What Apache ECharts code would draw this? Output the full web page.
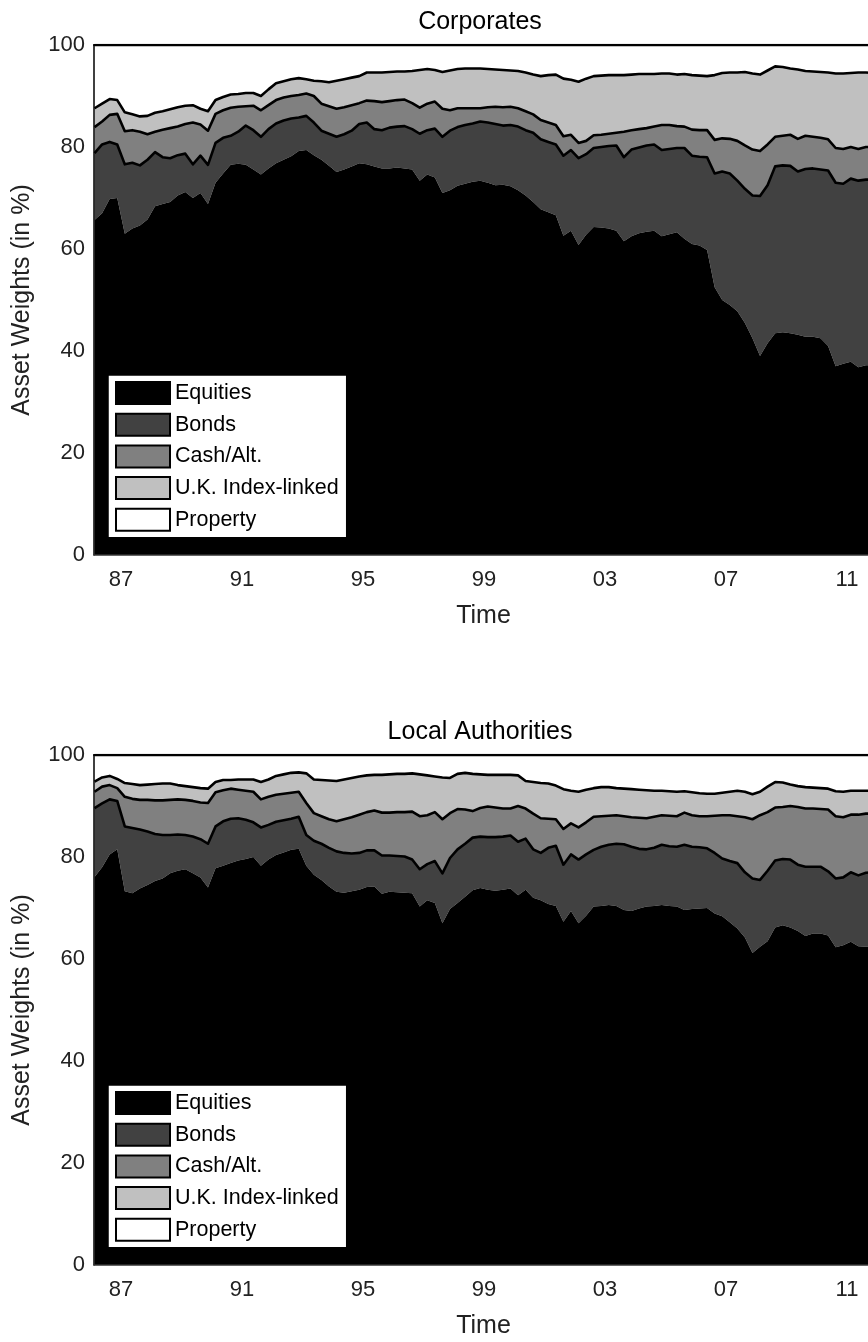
<!DOCTYPE html>
<html><head><meta charset="utf-8">
<script src="https://cdn.jsdelivr.net/npm/echarts/dist/echarts.min.js"></script>
<style>html,body{margin:0;padding:0;overflow:hidden;background:#fff;width:868px;height:1342px}#c{width:880px;height:1342px}</style>
</head><body><div id="c"></div><script>
// Quarterly observations, 1986Q1 .. 2012Q1 (mid-quarter positions)
const quarters = [];
for (let i = 0; i < 105; i++) quarters.push(1986.125 + 0.25 * i);

const seriesNames = ['Equities', 'Bonds', 'Cash/Alt.', 'U.K. Index-linked', 'Property'];
const tickYears = [1987, 1991, 1995, 1999, 2003, 2007, 2011];
const panelTitles = ['Corporates', 'Local Authorities'];

// ---- Corporates (asset weights in %) ----
const corpEquities = [65.7,67.0,69.8,70.0,63.0,64.0,64.6,65.8,68.4,68.8,
69.2,70.5,71.2,70.0,71.0,68.8,73.0,74.8,76.5,76.7,
76.5,75.6,74.6,75.8,76.8,77.5,78.2,79.2,79.4,78.4,
77.5,76.3,75.1,75.6,76.2,76.8,76.6,76.2,75.8,75.8,
76.0,75.8,75.6,73.4,74.6,74.0,71.0,71.5,72.4,72.8,
73.2,73.4,73.0,72.5,72.6,72.3,71.5,70.5,69.2,67.8,
67.2,66.6,62.6,63.6,60.8,62.8,64.3,64.2,64.0,63.6,
61.5,62.5,63.1,63.4,63.6,62.5,62.9,63.3,62.0,61.0,
60.7,59.8,52.5,50.0,49.0,47.8,45.5,42.5,39.0,41.5,
43.5,43.7,43.5,43.2,42.8,42.8,42.5,41.0,37.0,37.5,
37.9,36.8,37.2,37.2,37.0];
const corpBonds = [13.1,13.5,11.2,10.5,13.6,12.9,11.8,11.7,10.6,9.2,
8.6,7.9,7.5,6.6,7.3,7.7,7.8,7.0,5.7,6.3,
7.7,7.7,7.4,7.7,7.8,7.7,7.4,6.6,6.7,6.4,
5.7,6.3,6.9,6.9,7.0,7.7,8.2,7.3,7.5,8.0,
8.0,8.3,7.9,9.2,8.7,9.6,11.0,11.7,11.5,11.5,
11.4,11.6,11.8,12.0,11.6,12.0,12.5,12.8,13.6,13.7,
13.8,13.9,15.7,15.8,17.0,15.8,15.5,15.8,16.2,16.7,
16.5,17.0,16.8,16.9,16.9,16.9,16.7,16.5,17.8,17.3,
17.4,18.2,22.3,25.2,25.8,25.6,26.3,28.0,31.4,31.0,
32.7,32.7,32.8,32.0,32.9,33.0,33.1,34.4,36.0,35.3,
35.9,36.6,36.4,36.4,36.6];
const corpCash = [5.1,4.5,5.3,6.0,6.5,6.4,6.6,5.0,4.0,5.4,
5.9,5.6,5.8,8.2,6.1,6.7,5.7,5.4,5.5,4.9,
3.8,4.8,5.2,4.7,4.6,4.5,4.4,4.4,4.4,5.2,
5.3,5.4,5.5,5.3,5.0,4.1,4.3,5.5,5.5,5.2,
5.2,5.2,5.1,5.1,5.2,5.3,5.5,4.0,3.7,3.3,
3.0,2.6,3.0,3.4,3.6,3.6,3.6,3.7,3.6,3.8,
3.8,3.8,3.8,3.0,3.0,2.6,2.5,2.4,2.4,2.5,
5.0,3.8,3.6,3.4,3.5,4.9,4.7,4.3,4.2,5.1,
5.2,5.3,6.6,6.5,6.8,7.8,8.5,9.0,8.8,8.0,
5.8,5.8,6.1,6.4,6.5,6.2,6.2,6.1,6.8,6.8,
6.2,6.2,6.4,6.4,6.4];
const corpIndexLinked = [3.7,3.5,3.1,2.7,3.7,3.1,3.0,3.6,3.7,3.6,
3.7,3.8,3.6,3.4,3.1,3.8,2.7,2.6,2.6,2.5,
2.6,2.5,2.8,3.1,3.3,3.2,3.3,3.3,2.8,3.0,
4.4,4.7,5.5,5.5,5.4,5.3,5.5,5.6,5.8,5.7,
5.6,5.5,6.3,7.4,6.8,6.2,7.2,7.8,7.7,7.8,
7.8,7.8,7.5,7.3,7.3,7.1,7.3,7.6,7.8,8.6,
9.3,9.9,11.3,10.8,12.0,12.2,11.6,11.6,11.5,11.3,
11.1,10.9,10.8,10.6,10.3,10.1,10.1,10.1,10.3,10.7,
10.7,10.6,12.7,12.8,13.0,13.4,14.4,14.9,15.0,14.5,
13.8,13.5,13.0,13.6,12.7,12.8,12.9,13.1,14.6,14.8,
14.5,15.0,14.6,14.5,14.5];
const corpProperty = [12.4,11.5,10.6,10.8,13.2,13.6,14.0,13.9,13.3,13.0,
12.6,12.2,11.9,11.8,12.5,13.0,10.8,10.2,9.7,9.6,
9.4,9.4,10.0,8.7,7.5,7.1,6.7,6.5,6.7,7.0,
7.1,7.3,7.0,6.7,6.4,6.1,5.4,5.4,5.4,5.3,
5.2,5.2,5.1,4.9,4.7,4.9,5.3,5.0,4.7,4.6,
4.6,4.6,4.7,4.8,4.9,5.0,5.1,5.4,5.8,6.1,
5.9,5.8,6.6,6.8,7.2,6.6,6.1,6.0,5.9,5.9,
5.9,5.8,5.7,5.7,5.7,5.6,5.6,5.8,5.7,5.9,
6.0,6.1,5.9,5.5,5.4,5.4,5.3,5.6,5.8,5.0,
4.2,4.3,4.6,4.8,5.1,5.2,5.3,5.4,5.6,5.6,
5.5,5.4,5.4,5.5,5.5];

// ---- Local Authorities (asset weights in %) ----
const laEquities = [76.1,78.0,80.5,81.5,73.3,72.9,73.8,74.5,75.3,75.8,
76.8,77.3,77.6,76.8,76.0,74.0,77.8,78.3,78.8,79.3,
79.6,80.0,78.3,79.5,80.4,80.9,81.4,81.6,78.3,76.5,
75.5,74.2,73.2,73.0,73.3,73.6,74.1,74.2,72.8,73.2,
73.1,73.0,72.9,70.3,71.5,71.0,67.0,69.8,71.0,72.2,
73.5,73.9,73.6,73.4,73.6,73.8,72.5,73.6,72.0,71.5,
70.8,70.4,67.3,69.4,67.0,68.5,70.3,70.4,70.6,70.4,
69.6,69.4,69.9,70.3,70.4,70.6,70.4,70.3,69.6,69.8,
69.9,70.0,68.9,68.4,67.2,66.0,64.2,61.2,62.4,63.5,
66.2,66.6,66.2,65.5,64.5,65.0,65.0,64.6,62.3,62.7,
63.4,62.5,62.4,62.4,62.4];
const laBonds = [13.5,12.5,10.8,9.5,12.7,12.8,11.6,10.5,9.2,8.5,
7.5,7.1,6.7,7.2,7.5,8.6,8.2,8.7,8.7,8.3,
7.7,6.8,7.5,6.8,6.5,6.3,6.1,6.3,6.0,6.7,
7.1,7.6,7.9,7.8,7.4,7.2,7.2,7.1,7.5,7.1,
7.1,7.1,6.6,7.3,7.1,8.2,9.8,10.0,10.5,10.4,
10.3,10.1,10.3,10.5,10.4,10.4,10.5,10.0,9.5,9.3,
11.0,11.8,11.2,11.1,12.5,12.0,11.1,11.6,11.8,12.2,
12.9,12.6,11.7,11.2,11.4,11.8,11.7,11.7,12.8,12.2,
12.0,11.7,11.9,11.3,12.0,12.8,12.8,14.6,13.1,13.8,
13.1,13.0,13.3,13.0,13.6,13.1,13.1,12.6,13.5,13.3,
13.6,13.9,14.5,14.6,14.6];
const laCash = [3.2,3.3,2.8,2.5,5.8,5.7,5.8,6.2,6.6,6.8,
6.9,6.9,6.9,7.0,7.2,8.0,6.7,6.1,5.9,5.6,
5.7,6.0,5.5,5.5,5.3,5.2,5.1,4.9,6.3,5.4,
5.4,5.6,5.9,6.6,7.1,7.5,7.5,7.8,8.4,8.4,
8.6,8.7,9.4,10.4,9.6,9.6,10.6,8.8,7.9,6.7,
5.2,5.6,6.0,5.8,5.5,5.3,7.0,5.9,7.0,6.8,
5.7,5.2,7.0,6.1,6.3,6.3,6.5,6.0,5.7,5.6,
5.5,5.8,6.1,6.1,6.1,5.8,6.0,6.0,6.3,6.2,
6.1,6.3,7.3,8.5,9.0,9.2,10.8,11.6,12.7,11.5,
10.4,10.2,10.5,11.3,11.4,11.4,11.3,12.1,12.2,11.8,
11.3,11.9,11.6,11.5,11.5];
const laIndexLinked = [2.0,1.8,1.8,1.8,2.7,2.9,2.9,3.0,3.2,3.3,
3.2,2.8,2.7,2.7,2.8,2.8,2.0,2.0,1.7,2.0,
2.2,2.4,3.4,3.4,3.7,3.8,3.9,3.8,5.8,6.6,
7.1,7.6,7.9,7.8,7.7,7.5,7.2,7.0,7.4,7.5,
7.5,7.5,7.5,8.2,7.8,7.0,8.2,6.9,6.9,7.2,
7.3,6.6,6.2,6.4,6.6,6.6,6.0,5.4,6.2,6.9,
6.9,6.6,7.8,6.4,7.0,6.4,5.6,5.7,5.6,5.3,
5.4,5.5,5.5,5.5,5.1,4.8,4.8,4.8,4.2,4.5,
4.5,4.4,4.3,4.4,4.6,5.0,5.0,4.9,4.6,5.0,
5.0,4.8,4.2,4.1,4.2,4.1,4.1,4.1,4.9,5.0,
4.7,4.7,4.5,4.5,4.5];
const laProperty = [5.2,4.4,4.1,4.7,5.5,5.7,5.9,5.8,5.7,5.6,
5.6,5.9,6.1,6.3,6.5,6.6,5.3,4.9,4.9,4.8,
4.8,4.8,5.3,4.8,4.1,3.8,3.5,3.4,3.6,4.8,
4.9,5.0,5.1,4.8,4.5,4.2,4.0,3.9,3.9,3.8,
3.7,3.7,3.6,3.8,4.0,4.2,4.4,4.5,3.7,3.5,
3.7,3.8,3.9,3.9,3.9,3.9,4.0,5.1,5.3,5.5,
5.6,6.0,6.7,7.0,7.2,6.8,6.5,6.3,6.3,6.5,
6.6,6.7,6.8,6.9,7.0,7.0,7.1,7.2,7.1,7.3,
7.5,7.6,7.6,7.4,7.2,7.0,7.2,7.7,7.2,6.2,
5.3,5.4,5.8,6.1,6.3,6.4,6.5,6.6,7.1,7.2,
7.0,7.0,7.0,7.0,7.0];

const panels = [
  [corpEquities, corpBonds, corpCash, corpIndexLinked, corpProperty],
  [laEquities, laBonds, laCash, laIndexLinked, laProperty]
];

// ---- styling / layout ----
const FONT = '"Liberation Sans", Arial, Helvetica, sans-serif';
const fills = ['#000000', '#414141', '#808080', '#c0c0c0', '#ffffff'];
const X_MIN = 1986.107, X_MAX = 2011.86;
const GRID_LEFT = 94, GRID_W = 779, GRID_H = 510;
const gridTops = [45, 755];

const grids = [], xAxes = [], yAxes = [], series = [], legends = [], graphics = [];
gridTops.forEach((top, g) => {
  grids.push({left: GRID_LEFT, top: top, width: GRID_W, height: GRID_H, show: false});
  xAxes.push({
    type: 'value', gridIndex: g, min: X_MIN, max: X_MAX, z: 20,
    name: 'Time', nameLocation: 'middle', nameGap: 49,
    nameTextStyle: {fontSize: 25, fontFamily: FONT, color: '#222'},
    axisLine: {show: true, lineStyle: {color: '#333', width: 1.5}},
    axisTick: {show: false}, splitLine: {show: false},
    axisLabel: {customValues: tickYears, fontSize: 22, fontFamily: FONT, color: '#222', margin: 14,
      formatter: v => String(Math.round(v) % 100).padStart(2, '0')}
  });
  xAxes.push({
    type: 'value', gridIndex: g, min: X_MIN, max: X_MAX, position: 'top', z: 20,
    axisLine: {show: true, lineStyle: {color: '#000', width: 2}},
    axisTick: {show: false}, axisLabel: {show: false}, splitLine: {show: false}
  });
  yAxes.push({
    type: 'value', gridIndex: g, min: 0, max: 100, interval: 20, z: 20,
    name: 'Asset Weights (in %)', nameLocation: 'middle', nameGap: 59,
    nameTextStyle: {fontSize: 25, fontFamily: FONT, color: '#222'},
    axisLine: {show: true, lineStyle: {color: '#000', width: 1.5}},
    axisTick: {show: false}, splitLine: {show: false},
    axisLabel: {fontSize: 22, fontFamily: FONT, color: '#222', margin: 9}
  });
  panels[g].forEach((vals, s) => {
    series.push({
      name: seriesNames[s], type: 'line', xAxisIndex: g * 2, yAxisIndex: g,
      stack: 'panel' + g, symbol: 'none', showSymbol: false,
      // value first so that the stacked dimension is the weight (y), time second (x)
      dimensions: ['weight', 'time'],
      encode: {x: 1, y: 0},
      data: vals.map((v, i) => [v, quarters[i]]),
      lineStyle: {color: '#000', width: s === 0 ? 0 : 2.6, join: 'round'},
      itemStyle: {color: fills[s]},
      areaStyle: {color: fills[s], opacity: 1},
      z: 10 - s, silent: true, emphasis: {disabled: true}
    });
  });
  legends.push({
    data: seriesNames, orient: 'vertical', left: 108, top: top + 330,
    icon: 'rect', itemWidth: 54, itemHeight: 22, itemGap: 7.7,
    padding: [6, 8, 6, 7], backgroundColor: '#fff', borderColor: '#000', borderWidth: 1.5,
    itemStyle: {borderColor: '#000', borderWidth: 2},
    textStyle: {fontSize: 21.5, fontFamily: FONT, color: '#000'},
    selectedMode: false, z: 30
  });
  graphics.push({
    type: 'text', z: 30,
    style: {text: panelTitles[g], x: 480, y: top - 23,
      textAlign: 'center', textVerticalAlign: 'middle', fontSize: 25, fontFamily: FONT, fill: '#000'}
  });
});

const chart = echarts.init(document.getElementById('c'), null, {renderer: 'canvas'});
chart.setOption({
  animation: false, backgroundColor: '#fff',
  grid: grids, xAxis: xAxes, yAxis: yAxes, series: series, legend: legends, graphic: graphics
});
</script></body></html>
